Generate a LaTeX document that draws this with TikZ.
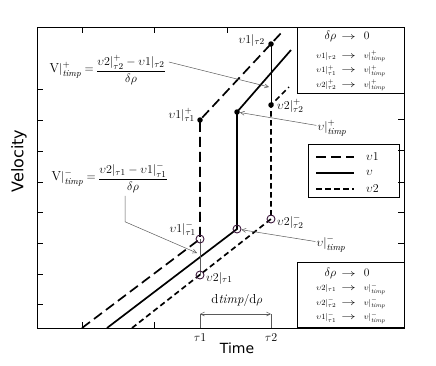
\documentclass[tikz,border=0pt]{standalone}
\usepackage{fontspec}
\usepackage{amsmath}
\usetikzlibrary{positioning, arrows.meta}
\newfontfamily\axisfont{DejaVu Sans}
\definecolor{ringcol}{RGB}{60,25,60}
\definecolor{guidecol}{RGB}{90,90,90}
\newcommand{\tmp}{\mathit{timp}}
\newcommand{\goesto}{\scalebox{1.7}[1.2]{$\rightarrow$}}

\begin{document}
\begin{tikzpicture}[x=1pt, y=-1pt,
    vone/.style={line width=1.7pt, dash pattern=on 10pt off 5pt},
    vmid/.style={line width=1.7pt},
    vtwo/.style={line width=1.7pt, dash pattern=on 5.5pt off 3.5pt},
    guide/.style={line width=0.5pt, guidecol},
    pointer/.style={guide, -{Straight Barb[length=4pt, width=4pt]}},
    dotmark/.style={circle, fill, inner sep=0pt, minimum size=5.5pt},
    ring/.style={circle, draw=ringcol, line width=0.9pt, inner sep=0pt, minimum size=8pt},
    lab/.style={font=\fontsize{13}{15}\selectfont, inner sep=1pt},
    formula/.style={font=\fontsize{13}{16}\selectfont, inner sep=0pt},
    infobox/.style={draw, line width=0.9pt, minimum width=107pt, minimum height=66pt, inner sep=0pt,
        font=\fontsize{8}{14.5}\selectfont},
    axislab/.style={font=\axisfont\fontsize{14}{16}\selectfont},
]
\useasboundingbox (0,0) rectangle (436,365);

% frame and ticks
\draw[line width=0.9pt] (37,27) rectangle (404,328);
\foreach \x in {82,154,227} \draw[line width=0.9pt] (\x,27) -- ++(0,6);
\foreach \x in {82,154} \draw[line width=0.9pt] (\x,328) -- ++(0,-6);
\foreach \y in {89,120,151,182,212,243,274,304} \draw[line width=0.9pt] (37,\y) -- ++(6,0);
\foreach \y in {119,150,182,212,243} \draw[line width=0.9pt] (404,\y) -- ++(-6,0);

% corner points of the three curves
\coordinate (a0) at (82,328);
\coordinate (a1) at (200,239);
\coordinate (a2) at (200,120);
\coordinate (a3) at (283,31);
\coordinate (b0) at (107,328);
\coordinate (b1) at (237,229);
\coordinate (b2) at (237,112);
\coordinate (b3) at (291,50);
\coordinate (c0) at (132,328);
\coordinate (c1) at (271,219);
\coordinate (c2) at (271,105);
\coordinate (c3) at (289,87);
\coordinate (p1) at (271,44);
\coordinate (p2) at (200,275);

\draw[vone] (a0) -- (a1) -- (a2) -- (a3);
\draw[vmid] (b0) -- (b1) -- (b2) -- (b3);
\draw[vtwo] (c0) -- (c1) -- (c2) -- (c3);
\draw[line width=0.6pt] (p1) -- (c2);
\draw[guide] (a1) -- (p2);

\node[ring] (r1) at (a1) {};
\node[ring] (r2) at (p2) {};
\node[ring] (r3) at (b1) {};
\node[ring] (r4) at (c1) {};
\node[dotmark] (d1) at (a2) {};
\node[dotmark] (d2) at (b2) {};
\node[dotmark] (d3) at (c2) {};
\node[dotmark] (d4) at (p1) {};

% point labels
\node[lab, anchor=east] (l1) at (266,40) {$\upsilon1|_{\tau2}$};
\node[lab, anchor=west] (l2) at (276,106) {$\upsilon2|^{+}_{\tau2}$};
\node[lab, anchor=east] (l3) at (196,115) {$\upsilon1|^{+}_{\tau1}$};
\node[lab, anchor=east] (l4) at (197,229) {$\upsilon1|^{-}_{\tau1}$};
\node[lab, anchor=west] (l5) at (205,278) {$\upsilon2|_{\tau1}$};
\node[lab, anchor=west] (l6) at (276,222) {$\upsilon2|^{-}_{\tau2}$};
\node[lab] (l7) at (332,128) {$\upsilon|^{+}_{\tmp}$};
\node[lab] (l8) at (331,244) {$\upsilon|^{-}_{\tmp}$};
\draw[pointer] (l7) -- (d2);
\draw[pointer] (l8) -- (r3);

% limit formulas
\node[formula] (frac1) at (131,70) {$\dfrac{\upsilon2|^{+}_{\tau2} - \upsilon1|_{\tau2}}{\delta\rho}$};
\node[formula, left=2pt of frac1] (lhs1) {$\mathrm{V}|^{+}_{\tmp} =$};
\node[formula] (frac2) at (133,178) {$\dfrac{\upsilon2|_{\tau1} - \upsilon1|^{-}_{\tau1}}{\delta\rho}$};
\node[formula, left=2pt of frac2] (lhs2) {$\mathrm{V}|^{-}_{\tmp} =$};
\coordinate (m1) at (269,87);
\coordinate (m2) at (197,253);
\draw[pointer] ([xshift=3pt,yshift=8pt]frac1.east) -- (m1);
\draw[pointer] ([xshift=-8pt,yshift=-3pt]frac2.south) -- ++(0,26) -- (m2);

% time step
\coordinate (s1) at (200,328);
\coordinate (s2) at (271,328);
\coordinate (q1) at (200,314);
\coordinate (q2) at (271,314);
\draw[guide] (s1) -- (q1);
\draw[guide] (s2) -- (q2);
\draw[guide, {Straight Barb[length=4pt, width=4pt]}-{Straight Barb[length=4pt, width=4pt]}] (q1) -- (q2);
\node[lab] (dlab) at (237,300) {$\mathrm{d}\mathit{timp}/\mathrm{d}\rho$};
\node[lab] (t1) at (200,338) {$\tau1$};
\node[lab] (t2) at (271,338) {$\tau2$};

% axis names
\node[axislab] (tlab) at (237,348) {Time};
\node[axislab, font=\axisfont\fontsize{16}{18}\selectfont, rotate=90] (vlab) at (19,161) {Velocity};

% limit boxes
\node[infobox, anchor=north west] (plusbox) at (297,27) {%
  \begin{tabular}{@{}r@{\hspace{5pt}}c@{\hspace{8pt}}l@{}}
  \fontsize{11.5}{12}\selectfont$\delta\rho$ & \goesto & \fontsize{11.5}{12}\selectfont 0\\[4pt]
  $\upsilon1|_{\tau2}$ & \goesto & $\upsilon|^{+}_{\tmp}$\\
  $\upsilon1|^{+}_{\tau1}$ & \goesto & $\upsilon|^{+}_{\tmp}$\\
  $\upsilon2|^{+}_{\tau2}$ & \goesto & $\upsilon|^{+}_{\tmp}$
  \end{tabular}};
\node[infobox, minimum height=65pt, anchor=south west] (minusbox) at (297,328) {%
  \begin{tabular}{@{}r@{\hspace{5pt}}c@{\hspace{8pt}}l@{}}
  \fontsize{11.5}{12}\selectfont$\delta\rho$ & \goesto & \fontsize{11.5}{12}\selectfont 0\\
  $\upsilon2|_{\tau1}$ & \goesto & $\upsilon|^{-}_{\tmp}$\\
  $\upsilon2|^{-}_{\tau2}$ & \goesto & $\upsilon|^{-}_{\tmp}$\\
  $\upsilon1|^{-}_{\tau1}$ & \goesto & $\upsilon|^{-}_{\tmp}$
  \end{tabular}};

% legend
\node[draw, line width=0.9pt, minimum width=91pt, minimum height=53pt, anchor=north west] (legend) at (308,144) {};
\node[lab, anchor=west] (k1) at (365,157) {$\upsilon1$};
\node[lab, anchor=west] (k2) at (365,173) {$\upsilon$};
\node[lab, anchor=west] (k3) at (365,189) {$\upsilon2$};
\draw[vone] ([xshift=-49pt]k1.west) -- ([xshift=-11pt]k1.west);
\draw[vmid] ([xshift=-49pt]k2.west) -- ([xshift=-11pt]k2.west);
\draw[vtwo] ([xshift=-49pt]k3.west) -- ([xshift=-11pt]k3.west);
\end{tikzpicture}
\end{document}
